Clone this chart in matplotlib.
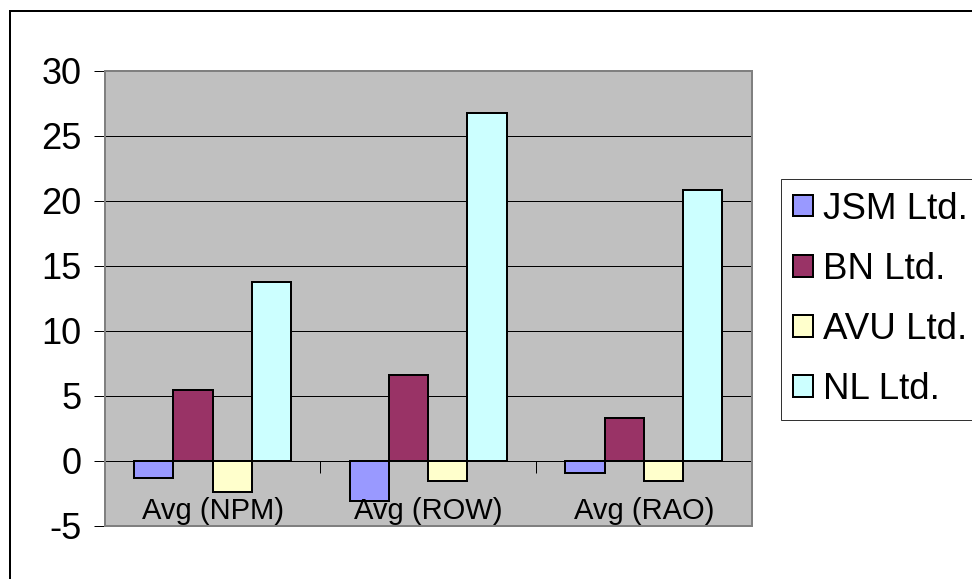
import matplotlib
matplotlib.use("Agg")
import matplotlib.pyplot as plt
from matplotlib.patches import Rectangle
import numpy as np

plt.rcParams["font.family"] = ["Liberation Sans", "DejaVu Sans"]
plt.rcParams["axes.unicode_minus"] = False

# averages per company for each ratio
categories = ["Avg (NPM)", "Avg (ROW)", "Avg (RAO)"]
companies = ["JSM Ltd.", "BN Ltd.", "AVU Ltd.", "NL Ltd."]
jsm = [-1.33, -3.11, -0.93]
bn = [5.43, 6.59, 3.27]
avu = [-2.44, -1.59, -1.59]
nl = [13.79, 26.73, 20.81]
series = [jsm, bn, avu, nl]
colors = ["#9999FF", "#993366", "#FFFFCC", "#CCFFFF"]

DPI = 100
px = 72.0 / DPI  # one pixel in points

fig = plt.figure(figsize=(9.72, 5.79), dpi=DPI)
fig.patch.set_facecolor("white")

# chart-area border (left/top/bottom visible, right side runs off the canvas)
fig.patches.append(Rectangle((10 / 972, -0.01), 1.2, 1 - 11 / 579 + 0.01,
                             transform=fig.transFigure, fill=False,
                             edgecolor="black", linewidth=2 * px, zorder=0))

ax = fig.add_axes([104.7 / 972, 53.3 / 579, 647 / 972, 454.7 / 579])
ax.set_facecolor("#C0C0C0")

x = np.arange(len(categories))
w = 1 / 5.5
for k, (vals, name, c) in enumerate(zip(series, companies, colors)):
    ax.bar(x + (k - 1.5) * w, vals, width=w, color=c, edgecolor="black",
           linewidth=2 * px, label=name, zorder=3)

ax.set_xlim(-0.5, 2.5)
ax.set_ylim(-5, 30)
ax.set_yticks(range(-5, 31, 5))
ax.yaxis.grid(True, color="black", linewidth=1 * px, zorder=1)
ax.set_axisbelow(True)
ax.tick_params(axis="y", direction="out", length=11 * px, width=1 * px,
               color="black", labelsize=26, pad=9)

# category axis sits on zero, ticks between groups
ax.spines["bottom"].set_position(("data", 0))
ax.spines["bottom"].set_color("black")
ax.spines["bottom"].set_linewidth(1 * px)
ax.spines["bottom"].set_zorder(4)
ax.set_xticks([0.5, 1.5, 2.5])
ax.set_xticklabels([])
ax.tick_params(axis="x", direction="out", length=12 * px, width=1 * px,
               color="black")
for i, lab in enumerate(categories):
    ax.text(i, -3.88, lab, ha="center", va="center", fontsize=21, zorder=5)

for s in ["top", "right"]:
    ax.spines[s].set_color("#808080")
    ax.spines[s].set_linewidth(2 * px)
ax.spines["left"].set_color("#606060")
ax.spines["left"].set_linewidth(2 * px)

# outline of the plot area bottom (below the zero axis)
ax.add_patch(Rectangle((0, 0), 1, 1, transform=ax.transAxes, fill=False,
                       edgecolor="#808080", linewidth=2 * px, zorder=6,
                       clip_on=False))

leg = fig.legend(loc="upper left", bbox_to_anchor=(780.7 / 972, 1 - 179 / 579),
                 borderaxespad=0, fontsize=26.5, frameon=True, fancybox=False,
                 handlelength=0.54, handleheight=0.54, handletextpad=0.28,
                 labelspacing=0.685, borderpad=0.34)
leg.get_frame().set_edgecolor("black")
leg.get_frame().set_linewidth(1 * px)
for h in leg.legend_handles:
    h.set_edgecolor("black")
    h.set_linewidth(2 * px)

fig.savefig("out.png", dpi=DPI)
